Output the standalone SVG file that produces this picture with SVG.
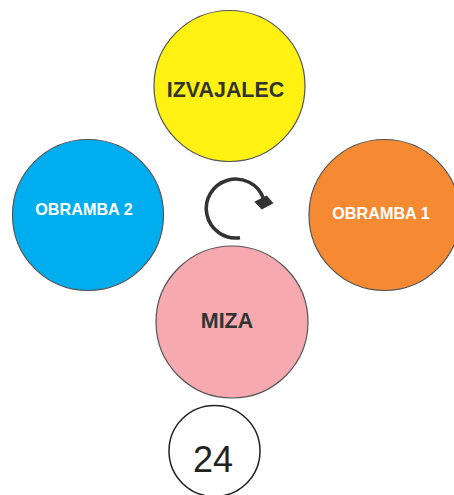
<svg xmlns="http://www.w3.org/2000/svg" width="454" height="495" viewBox="0 0 454 495">
<style>
.node{stroke:#555;stroke-width:1.2}
.lbl{font-family:"Liberation Sans",Arial,sans-serif;font-weight:bold;text-anchor:middle}
.dark{fill:#333}
.white{fill:#fff}
</style>
<rect width="454" height="495" fill="#fff"/>
<g id="izvajalec">
<circle class="node" cx="229.5" cy="86" r="75.5" fill="#FFF212"/>
<text class="lbl dark" x="225.5" y="97" font-size="21.4">IZVAJALEC</text>
</g>
<g id="obramba2">
<circle class="node" cx="88" cy="215" r="75.5" fill="#00AEEF"/>
<text class="lbl white" x="84" y="215" font-size="16.2">OBRAMBA 2</text>
</g>
<g id="obramba1">
<circle class="node" cx="384.5" cy="215" r="75.5" fill="#F58A33"/>
<text class="lbl white" x="381" y="218.5" font-size="16.2">OBRAMBA 1</text>
</g>
<g id="miza">
<circle class="node" cx="232" cy="322" r="76" fill="#F6A9AE"/>
<text class="lbl dark" x="227" y="327.5" font-size="21.4">MIZA</text>
</g>
<g id="page">
<circle cx="214.5" cy="451" r="45.5" fill="#fff" stroke="#222" stroke-width="1.5"/>
<text x="213" y="471.5" font-family="'Liberation Sans',Arial,sans-serif" font-size="36" fill="#222" text-anchor="middle">24</text>
</g>
<g id="connectors">
<path d="M240,237.7 A29.5,29.5 0 1 1 263.5,198.5" fill="none" stroke="#333" stroke-width="3.6"/>
<polygon points="254.3,201.7 266.7,195.5 273.5,203.3 261.7,209.5" fill="#333"/>
</g>
</svg>
